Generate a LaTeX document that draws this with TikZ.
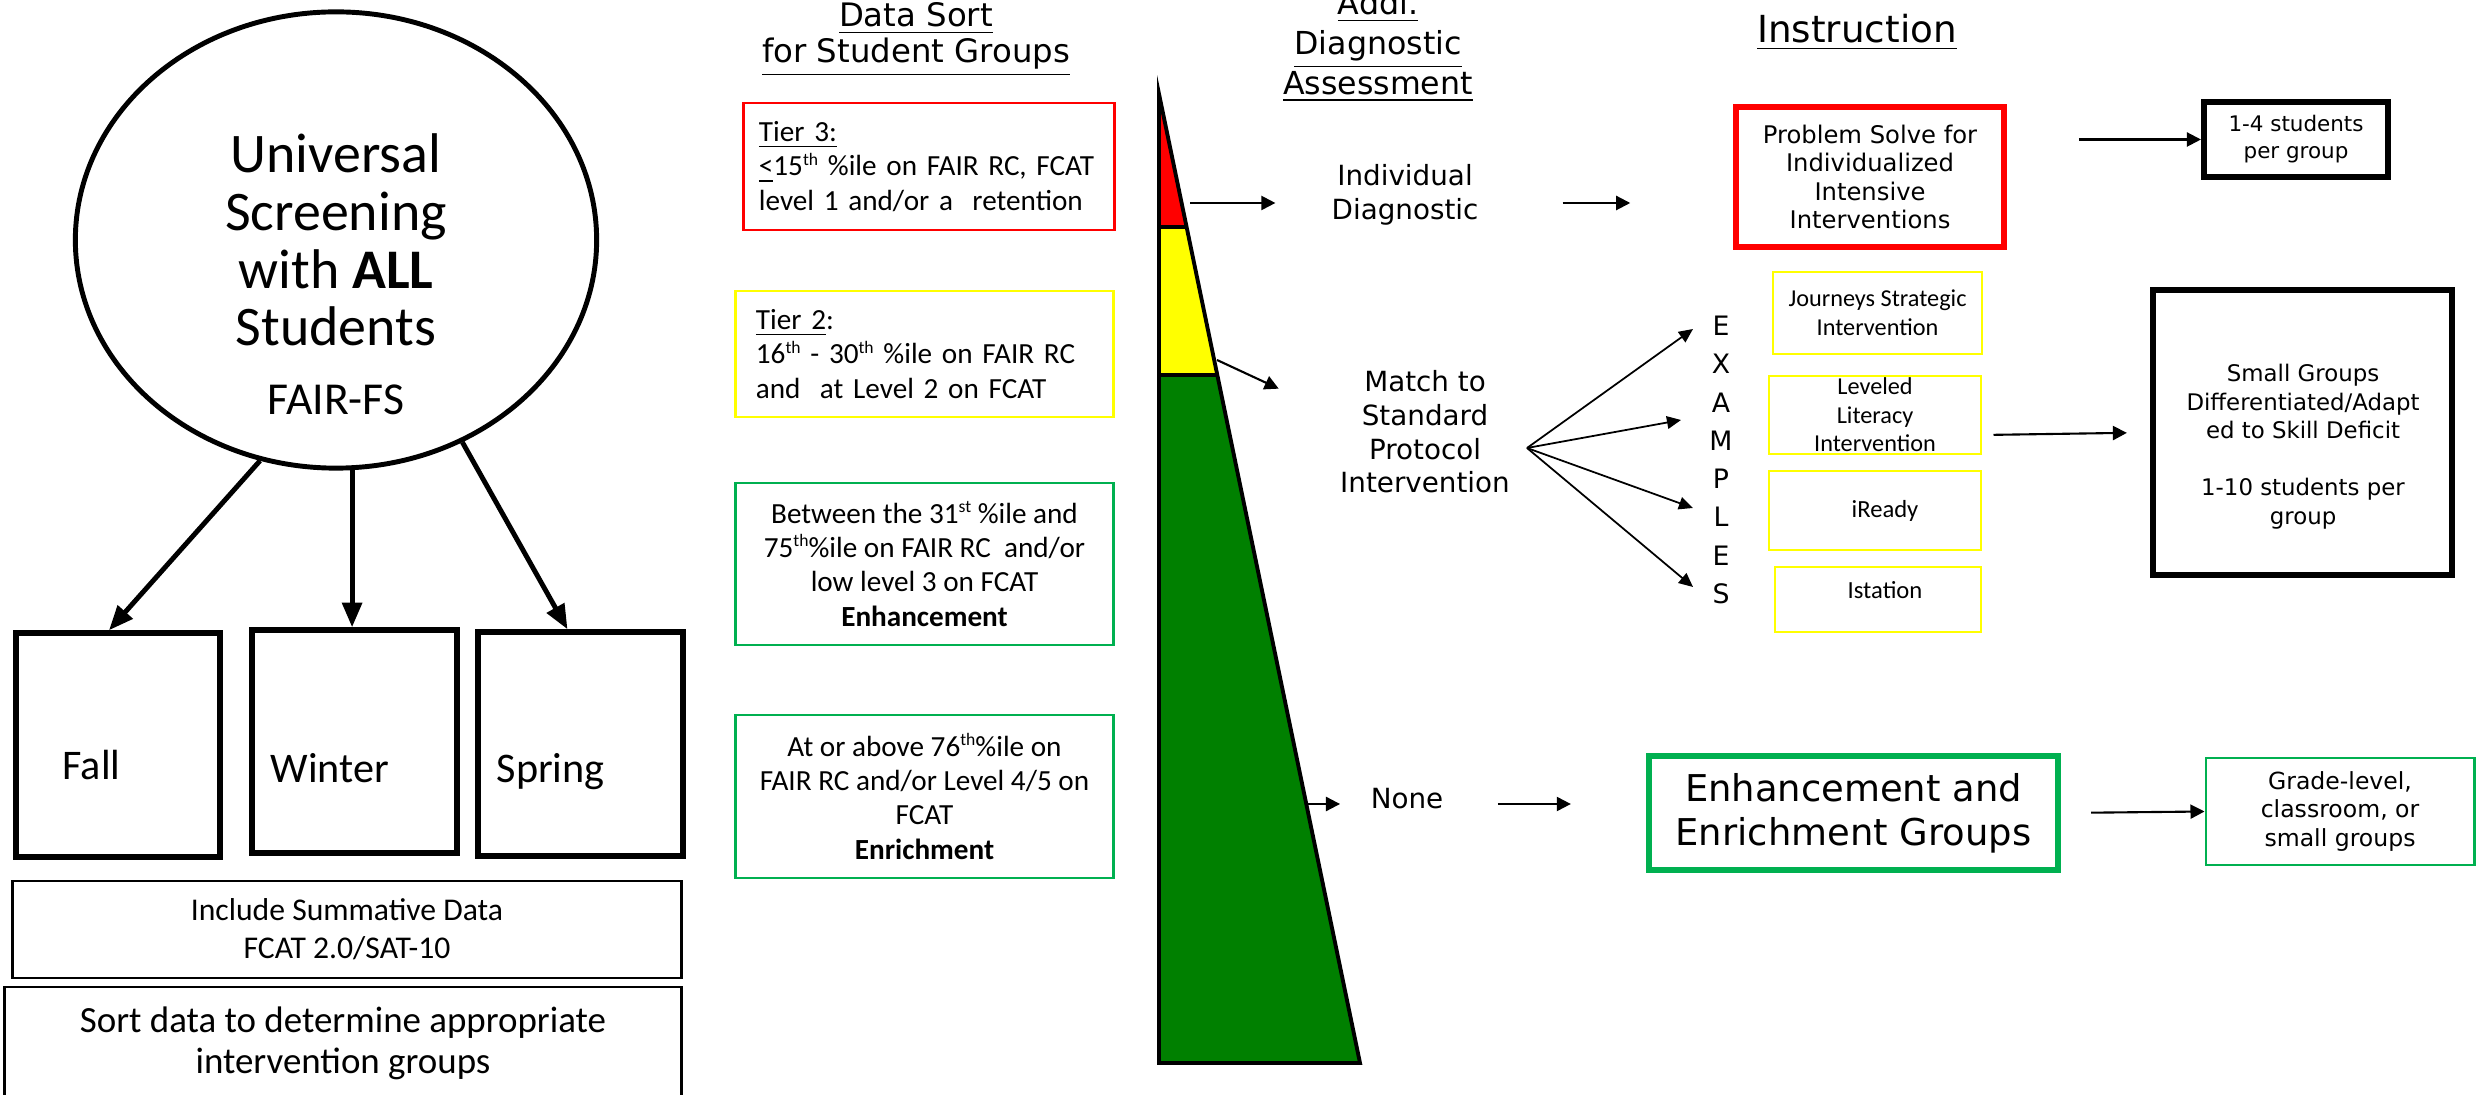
\documentclass[tikz,border=0pt]{standalone}
\usepackage{fontspec}
\setmainfont{Carlito}
\newfontfamily\verd{DejaVu Sans}
\usetikzlibrary{arrows.meta,shapes.geometric}
\definecolor{tred}{HTML}{FF0000}
\definecolor{tyel}{HTML}{FFFF00}
\definecolor{tgrn}{HTML}{00B050}
\definecolor{wedgegreen}{HTML}{008000}
\newcommand{\fsz}[2]{\fontsize{#1}{#2}\selectfont}
% small raised ordinal suffix
\newcommand{\ordsup}[1]{\raisebox{0.36em}{\fontsize{5pt}{5pt}\selectfont #1}}

\begin{document}
\begin{tikzpicture}[x=0.01cm,y=-0.01cm,
  box/.style={draw, rectangle, inner sep=0pt, align=center},
  txt/.style={inner sep=0pt, align=center},
  arr/.style={line width=0.6pt, -{Triangle[length=4pt,width=4pt]}},
  fanarr/.style={line width=0.5pt, -{Triangle[length=4pt,width=3.6pt]}},
  bigarr/.style={line width=1.4pt, -{Triangle[length=7pt,width=5.5pt]}},
]
\useasboundingbox (0,0) rectangle (2476,1095);

% ---------- screening column ----------
\node[draw, ellipse, line width=1.4pt, minimum width=5.21cm, minimum height=4.56cm,
      inner sep=0pt, align=center, font=\fsz{15.9pt}{16.4pt}] (screen) at (336,240)
      {Universal\\Screening\\with \textbf{ALL}\\Students};
\node[txt, anchor=base, font=\fsz{13pt}{15pt}] (fairfs) at (336,415) {FAIR-FS};

\node[box, line width=1.5pt, minimum width=2.04cm, minimum height=2.24cm] (fall) at (118,745) {};
\node[box, line width=1.5pt, minimum width=2.05cm, minimum height=2.23cm] (winter) at (354.5,741.5) {};
\node[box, line width=1.5pt, minimum width=2.05cm, minimum height=2.24cm] (spring) at (580.5,744) {};
\node[txt, anchor=base west, font=\fsz{12pt}{14pt}] (falltxt) at (62,780) {Fall};
\node[txt, anchor=base west, font=\fsz{12pt}{14pt}] (wintertxt) at (270,783) {Winter};
\node[txt, anchor=base west, font=\fsz{12pt}{14pt}] (springtxt) at (496,783) {Spring};

\draw[bigarr] (screen.251) -- ([xshift=-0.09cm]fall.north);
\draw[bigarr] (screen.274) -- (screen.274 |- winter.north);
\draw[bigarr] (screen.302) -- ([xshift=-0.13cm]spring.north);

\node[box, line width=0.75pt, minimum width=6.68cm, minimum height=0.97cm,
      font=\fsz{9pt}{10.8pt}] (summ) at (347,929.5)
      {Include Summative Data\\FCAT 2.0/SAT-10};
\node[box, line width=0.75pt, minimum width=6.76cm, minimum height=1.13cm,
      font=\fsz{10.5pt}{11.7pt}] (sortdata) at (343,1043.5)
      {Sort data to determine appropriate\\intervention groups};

% ---------- headers ----------
\node[txt, anchor=base, font=\verd\fsz{9.2pt}{11pt}] (hdsort) at (916,27) {\underline{Data Sort}};
\node[txt, anchor=base, font=\verd\fsz{9.2pt}{11pt}] (hdgroups) at (916,63) {\underline{for Student Groups}};
\node[txt, anchor=base, font=\verd\fsz{9pt}{11pt}] (hdaddl) at (1378,15) {\underline{Addl.}};
\node[txt, anchor=base, font=\verd\fsz{9pt}{11pt}] (hddiag) at (1378,55) {\underline{Diagnostic}};
\node[txt, anchor=base, font=\verd\fsz{9pt}{11pt}] (hdassess) at (1378,94.5) {\underline{Assessment}};
\node[txt, anchor=base, font=\verd\fsz{10.6pt}{13pt}] (hdinstr) at (1857,43) {\underline{Instruction}};

% ---------- tier boxes ----------
\node[box, draw=tred, line width=0.8pt, text width=3.4cm, inner xsep=0.15cm,
      minimum height=1.27cm, align=left, font=\fsz{8.3pt}{9.8pt}] (tier3) at (929,166.5)
      {\underline{Tier 3:}\\\underline{<}15\ordsup{th} \%ile on FAIR RC, FCAT\\level 1 and/or a\ \ retention};
\node[box, draw=tyel, line width=0.8pt, text width=3.37cm, inner xsep=0.2cm,
      minimum height=1.26cm, align=left, font=\fsz{8.3pt}{9.8pt}] (tier2) at (924.5,354)
      {\underline{Tier 2}:\\16\ordsup{th} - 30\ordsup{th} \%ile on FAIR RC\\and\ \ at Level 2 on FCAT};
\node[box, draw=tgrn, line width=0.8pt, minimum width=3.77cm, minimum height=1.62cm,
      font=\fsz{8.3pt}{9.8pt}] (enhance) at (924.5,564)
      {Between the 31\ordsup{st} \%ile and\\75\ordsup{th}\%ile on FAIR RC\ \ and/or\\low level 3 on FCAT\\\textbf{Enhancement}};
\node[box, draw=tgrn, line width=0.8pt, minimum width=3.77cm, minimum height=1.63cm,
      font=\fsz{8.3pt}{9.8pt}] (enrich) at (924.5,796.5)
      {At or above 76\ordsup{th}\%ile on\\FAIR RC and/or Level 4/5 on\\FCAT\\\textbf{Enrichment}};

% ---------- tier wedge ----------
\fill[tred] (1159,94) -- (1186.6,227) -- (1159,227) -- cycle;
\fill[tyel] (1159,227) -- (1186.6,227) -- (1217.3,375) -- (1159,375) -- cycle;
\fill[wedgegreen] (1159,375) -- (1217.3,375) -- (1360,1063) -- (1159,1063) -- cycle;
\draw[line width=1.1pt, line join=miter] (1159,94) -- (1360,1063) -- (1159,1063) -- cycle;
\draw[line width=1.1pt] (1159,227) -- (1186.6,227) (1159,375) -- (1217.3,375);
\coordinate (redout) at (1190,203);
\coordinate (yelout) at (1217,360);
\coordinate (grnout) at (1307,804);

% ---------- diagnostic column ----------
\node[txt, font=\verd\fsz{7.9pt}{9.7pt}] (indiv) at (1405,194.5) {Individual\\Diagnostic};
\node[txt, font=\verd\fsz{7.9pt}{9.6pt}] (match) at (1425,432) {Match to\\Standard\\Protocol\\Intervention};
\node[txt, anchor=base, font=\verd\fsz{7.9pt}{9.7pt}] (none) at (1407,809) {None};
\node[txt, font=\verd\fsz{7.6pt}{10.87pt}] (examples) at (1721,460) {E\\X\\A\\M\\P\\L\\E\\S};

\draw[arr, shorten >=0.555cm] (redout) -- (redout -| indiv.west);
\draw[arr, shorten >=0.67cm] (yelout) -- (match.170);
\draw[arr, shorten >=0.3cm] (grnout) -- (grnout -| none.west);

\coordinate (fan) at (1527,448);
\coordinate (tipE) at (1693,329);
\coordinate (tipAM) at (1681,420);
\coordinate (tipL) at (1693,508);
\coordinate (tipS) at (1693,587);
\draw[fanarr] (fan) -- (tipE);
\draw[fanarr] (fan) -- (tipAM);
\draw[fanarr] (fan) -- (tipL);
\draw[fanarr] (fan) -- (tipS);

% ---------- instruction column ----------
\node[box, draw=tred, line width=1.5pt, minimum width=2.68cm, minimum height=1.40cm,
      font=\verd\fsz{6.9pt}{8.1pt}] (problem) at (1870,177)
      {Problem Solve for\\Individualized\\Intensive\\Interventions};
\node[box, line width=1.7pt, minimum width=1.84cm, minimum height=0.75cm,
      font=\verd\fsz{6.1pt}{7.7pt}] (four) at (2296,139.5) {1-4 students\\per group};

\node[box, draw=tyel, line width=0.8pt, minimum width=2.09cm, minimum height=0.82cm,
      font=\fsz{6.9pt}{8.25pt}] (journeys) at (1877.5,313) {Journeys Strategic\\Intervention};
\node[box, draw=tyel, line width=0.8pt, minimum width=2.12cm, minimum height=0.78cm,
      font=\fsz{6.9pt}{8.1pt}] (leveled) at (1875,415) {Leveled\\Literacy\\Intervention};
\node[box, draw=tyel, line width=0.8pt, minimum width=2.12cm, minimum height=0.79cm,
      font=\fsz{7pt}{8pt}] (iready) at (1875,510.5) {\hspace*{0.2cm}iReady};
\node[box, draw=tyel, line width=0.8pt, minimum width=2.06cm, minimum height=0.65cm] (istation) at (1878,599.5) {};
\node[txt, anchor=base, font=\fsz{7pt}{8pt}] (istatxt) at (1885,599) {Istation};

\node[box, line width=1.7pt, minimum width=2.99cm, minimum height=2.85cm] (small) at (2302.5,432.5) {};
\node[txt, font=\verd\fsz{6.5pt}{8.1pt}] (smalltxt) at (2303,446.5)
      {Small Groups\\Differentiated/Adapt\\ed to Skill Deficit\\[8.1pt]1-10 students per\\group};

\node[box, draw=tgrn, line width=1.7pt, minimum width=4.09cm, minimum height=1.14cm,
      font=\verd\fsz{10.5pt}{12.5pt}] (enh) at (1853.5,813) {Enhancement and\\Enrichment Groups};
\node[box, draw=tgrn, line width=0.8pt, minimum width=2.68cm, minimum height=1.07cm,
      font=\verd\fsz{6.7pt}{8pt}] (grade) at (2340,811.5) {Grade-level,\\classroom, or\\small groups};

\draw[arr, shorten <=0.835cm, shorten >=1.03cm] (indiv.east |- redout) -- (problem.west |- redout);
\draw[arr, shorten <=0.72cm] (problem.east |- four.west) -- (four.west);
\draw[arr, shorten <=0.11cm, shorten >=0.23cm] ([yshift=-0.2cm]leveled.east) -- (small.west);
\draw[arr, shorten <=0.54cm, shorten >=0.75cm] (none.east |- grnout) -- (enh.west |- grnout);
\draw[arr, shorten <=0.3cm] (enh.east) -- (grade.west);
\end{tikzpicture}
\end{document}
